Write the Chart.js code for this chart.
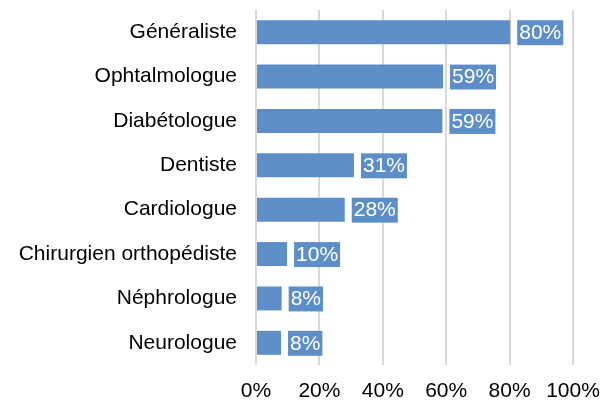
<!DOCTYPE html>
<html>
<head>
<meta charset="utf-8">
<script src="https://cdn.jsdelivr.net/npm/chart.js@4/dist/chart.umd.min.js"></script>
<style>
  html, body { margin: 0; padding: 0; background: #fff; }
  #wrap { width: 603px; height: 401px; }
</style>
</head>
<body>
<div id="wrap"><canvas id="chart" width="603" height="401"></canvas></div>
<script>
const categories = ['Généraliste', 'Ophtalmologue', 'Diabétologue', 'Dentiste', 'Cardiologue', 'Chirurgien orthopédiste', 'Néphrologue', 'Neurologue'];
const values = [80.2, 59, 58.8, 30.9, 28, 9.8, 8.1, 7.9];
const xTicks = [0, 20, 40, 60, 80, 100];

const barColor = '#5d8ec8';
const fontFamily = '"Liberation Sans", Arial, Helvetica, sans-serif';

// white value label in a blue box, just right of each bar
const valueBoxes = {
    id: 'valueBoxes',
    afterDatasetsDraw(chart) {
        const ctx = chart.ctx;
        const meta = chart.getDatasetMeta(0);
        ctx.save();
        ctx.font = '21px ' + fontFamily;
        ctx.textBaseline = 'middle';
        meta.data.forEach((bar, i) => {
            const txt = Math.round(values[i]) + '%';
            const w = ctx.measureText(txt).width + 4;
            const h = bar.height + 1;
            const x = bar.x + 7;
            ctx.fillStyle = barColor;
            ctx.fillRect(x, bar.y - bar.height / 2, w, h);
            ctx.fillStyle = '#fff';
            ctx.fillText(txt, x + 2, bar.y + 1);
        });
        ctx.restore();
    }
};

new Chart(document.getElementById('chart'), {
    type: 'bar',
    data: {
        labels: categories,
        datasets: [{
            data: values,
            backgroundColor: barColor,
            categoryPercentage: 1,
            barPercentage: 0.54
        }]
    },
    options: {
        indexAxis: 'y',
        responsive: false,
        animation: false,
        layout: { padding: { top: 10, right: 30, bottom: 0, left: 0 } },
        plugins: {
            legend: { display: false },
            tooltip: { enabled: false }
        },
        scales: {
            x: {
                min: 0,
                max: 100,
                afterBuildTicks: scale => { scale.ticks = xTicks.map(v => ({ value: v })); },
                afterFit: scale => {
                    scale.paddingLeft = 0;
                    scale.paddingRight = 0;
                    scale.paddingTop = 0;
                    scale.paddingBottom = 0;
                    scale.height = 36;
                },
                ticks: {
                    callback: v => v + '%',
                    color: '#000',
                    padding: 14,
                    font: { size: 21, family: fontFamily }
                },
                grid: { color: '#d9d9d9', lineWidth: 2, drawTicks: false },
                border: { display: false }
            },
            y: {
                afterFit: scale => {
                    scale.width = 256;
                    scale.paddingTop = 0;
                    scale.paddingBottom = 0;
                },
                ticks: {
                    color: '#000',
                    padding: 19,
                    font: { size: 21, family: fontFamily }
                },
                grid: { display: false, drawTicks: false },
                border: { display: false }
            }
        }
    },
    plugins: [valueBoxes]
});
</script>
</body>
</html>
